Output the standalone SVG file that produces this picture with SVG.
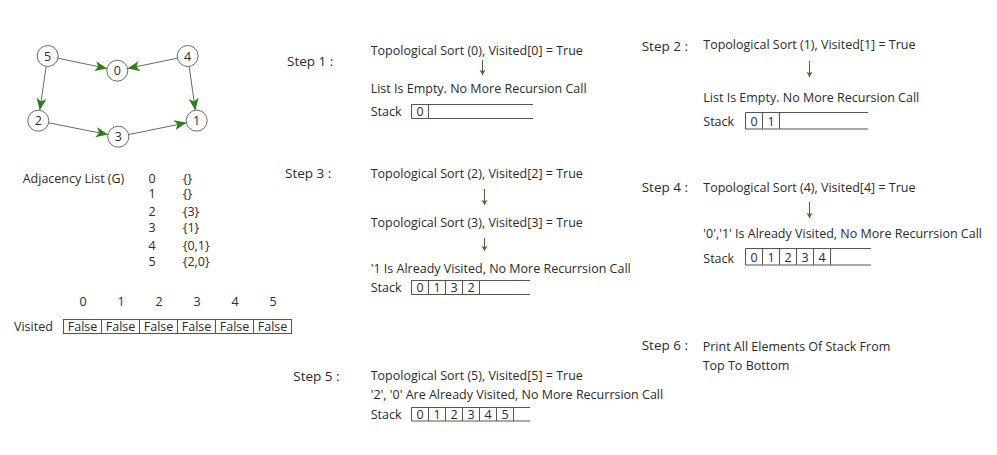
<svg xmlns="http://www.w3.org/2000/svg" width="997" height="455" viewBox="0 0 997 455">
<style>
text{font-family:"Open Sans","Noto Sans",sans-serif;fill:#2b2b2b;font-size:12.5px}
.step{font-size:13.5px}
.nl{font-size:12.5px;text-anchor:middle}
.c{text-anchor:middle}
.node{fill:#fff;stroke:#6a6a6a;stroke-width:1}
.edge{stroke:#6a6a6a;stroke-width:1;fill:none}
.arr{stroke:#555;stroke-width:1;fill:none}
.box{stroke:#555;stroke-width:1;fill:none}
</style>
<defs>
<marker id="big" markerUnits="userSpaceOnUse" markerWidth="13" markerHeight="11" refX="12" refY="5" orient="auto">
<path d="M0,0 L12,5 L0,10 L3,5 z" fill="#2e7d15"/>
</marker>
<marker id="sm" markerUnits="userSpaceOnUse" markerWidth="7" markerHeight="7" refX="5" refY="3" orient="auto">
<path d="M0,0 L5,3 L0,6 L1,3 z" fill="#2e7d15"/>
</marker>
</defs>

<g id="connectors">
<line class="edge" x1="58" y1="58.2" x2="107" y2="68.5" marker-end="url(#big)"/>
<line class="edge" x1="177.4" y1="58.2" x2="127.6" y2="68.5" marker-end="url(#big)"/>
<line class="edge" x1="46.2" y1="66.4" x2="39.8" y2="110.3" marker-end="url(#big)"/>
<line class="edge" x1="189.2" y1="66.4" x2="195.3" y2="110.3" marker-end="url(#big)"/>
<line class="edge" x1="48.6" y1="122.8" x2="108" y2="134.6" marker-end="url(#big)"/>
<line class="edge" x1="128.6" y1="134.6" x2="186.4" y2="122.8" marker-end="url(#big)"/>
</g>

<g id="node-5"><circle class="node" cx="47.7" cy="56" r="10.5"/><text class="nl" x="47.7" y="60.5">5</text></g>
<g id="node-0"><circle class="node" cx="117.3" cy="70.7" r="10.5"/><text class="nl" x="117.3" y="75.2">0</text></g>
<g id="node-4"><circle class="node" cx="187.7" cy="56" r="10.5"/><text class="nl" x="187.7" y="60.5">4</text></g>
<g id="node-2"><circle class="node" cx="38.3" cy="120.7" r="10.5"/><text class="nl" x="38.3" y="125.2">2</text></g>
<g id="node-3"><circle class="node" cx="118.3" cy="136.7" r="10.5"/><text class="nl" x="118.3" y="141.2">3</text></g>
<g id="node-1"><circle class="node" cx="196.7" cy="120.7" r="10.5"/><text class="nl" x="196.7" y="125.2">1</text></g>

<g id="adjacency">
<text x="22.7" y="182.5">Adjacency List (G)</text>
<text x="148.5" y="182.5">0</text><text x="182.7" y="182.5">{}</text>
<text x="148.5" y="198">1</text><text x="182.7" y="198">{}</text>
<text x="148.5" y="216">2</text><text x="182.7" y="216">{3}</text>
<text x="148.5" y="232">3</text><text x="182.7" y="232">{1}</text>
<text x="148.5" y="249.5">4</text><text x="182.7" y="249.5">{0,1}</text>
<text x="148.5" y="266">5</text><text x="182.7" y="266">{2,0}</text>
</g>

<g id="visited">
<text class="c" x="83" y="305.5">0</text>
<text class="c" x="121" y="305.5">1</text>
<text class="c" x="159" y="305.5">2</text>
<text class="c" x="197" y="305.5">3</text>
<text class="c" x="235" y="305.5">4</text>
<text class="c" x="273" y="305.5">5</text>
<text x="14" y="330.5">Visited</text>
<rect class="box" x="63.5" y="319.5" width="228" height="14"/>
<path class="box" d="M101.5,319.5V333.5M139.5,319.5V333.5M177.5,319.5V333.5M215.5,319.5V333.5M253.5,319.5V333.5"/>
<text class="c" x="82.5" y="331">False</text>
<text class="c" x="120.5" y="331">False</text>
<text class="c" x="158.5" y="331">False</text>
<text class="c" x="196.5" y="331">False</text>
<text class="c" x="234.5" y="331">False</text>
<text class="c" x="272.5" y="331">False</text>
</g>

<g id="step-1">
<text class="step" x="287" y="66">Step 1 :</text>
<text x="370.7" y="54.5">Topological Sort (0), Visited[0] = True</text>
<line class="arr" x1="482.5" y1="60" x2="482.5" y2="75" marker-end="url(#sm)"/>
<text x="370.7" y="92.5">List Is Empty. No More Recursion Call</text>
<text x="370.7" y="115.5">Stack</text>
<path class="box" d="M533,104.5H411.5V118.5H533M428.5,104.5V118.5"/>
<text class="c" x="420" y="116">0</text>
</g>

<g id="step-2">
<text class="step" x="641.7" y="51">Step 2 :</text>
<text x="703.3" y="48.5">Topological Sort (1), Visited[1] = True</text>
<line class="arr" x1="809.5" y1="61" x2="809.5" y2="77" marker-end="url(#sm)"/>
<text x="703.3" y="101.5">List Is Empty. No More Recursion Call</text>
<text x="703.3" y="125.5">Stack</text>
<path class="box" d="M868,112.5H745.5V129H868M762.5,112.5V129M779.5,112.5V129"/>
<text class="c" x="754" y="125.5">0</text>
<text class="c" x="771" y="125.5">1</text>
</g>

<g id="step-3">
<text class="step" x="285" y="177.5">Step 3 :</text>
<text x="370.7" y="177.5">Topological Sort (2), Visited[2] = True</text>
<line class="arr" x1="484.5" y1="189" x2="484.5" y2="205" marker-end="url(#sm)"/>
<text x="370.7" y="226.5">Topological Sort (3), Visited[3] = True</text>
<line class="arr" x1="484.5" y1="238" x2="484.5" y2="251" marker-end="url(#sm)"/>
<text x="370.7" y="272.5">'1 Is Already Visited, No More Recurrsion Call</text>
<text x="370.7" y="291.5">Stack</text>
<path class="box" d="M530,280.5H411.5V294.5H530M428.5,280.5V294.5M445.5,280.5V294.5M462.5,280.5V294.5M479.5,280.5V294.5"/>
<text class="c" x="420" y="292">0</text>
<text class="c" x="437" y="292">1</text>
<text class="c" x="454" y="292">3</text>
<text class="c" x="471" y="292">2</text>
</g>

<g id="step-4">
<text class="step" x="641.7" y="191.5">Step 4 :</text>
<text x="703.3" y="191.5">Topological Sort (4), Visited[4] = True</text>
<line class="arr" x1="809.5" y1="202" x2="809.5" y2="218" marker-end="url(#sm)"/>
<text x="703.3" y="238">'0','1' Is Already Visited, No More Recurrsion Call</text>
<text x="703.3" y="263">Stack</text>
<path class="box" d="M871,248.5H745.5V265H871M762.5,248.5V265M779.5,248.5V265M796.5,248.5V265M813.5,248.5V265M830.5,248.5V265"/>
<text class="c" x="754" y="261.5">0</text>
<text class="c" x="771" y="261.5">1</text>
<text class="c" x="788" y="261.5">2</text>
<text class="c" x="805" y="261.5">3</text>
<text class="c" x="822" y="261.5">4</text>
</g>

<g id="step-5">
<text class="step" x="293.3" y="381">Step 5 :</text>
<text x="370.7" y="379.5">Topological Sort (5), Visited[5] = True</text>
<text x="370.7" y="398.5">'2', '0' Are Already Visited, No More Recurrsion Call</text>
<text x="370.7" y="418.5">Stack</text>
<path class="box" d="M530,407.5H411.5V421H530M428.5,407.5V421M445.5,407.5V421M462.5,407.5V421M479.5,407.5V421M496.5,407.5V421M513.5,407.5V421"/>
<text class="c" x="420" y="419">0</text>
<text class="c" x="437" y="419">1</text>
<text class="c" x="454" y="419">2</text>
<text class="c" x="471" y="419">3</text>
<text class="c" x="488" y="419">4</text>
<text class="c" x="505" y="419">5</text>
</g>

<g id="step-6">
<text class="step" x="641.7" y="350">Step 6 :</text>
<text x="702.7" y="351">Print All Elements Of Stack From</text>
<text x="702.7" y="370">Top To Bottom</text>
</g>
</svg>
